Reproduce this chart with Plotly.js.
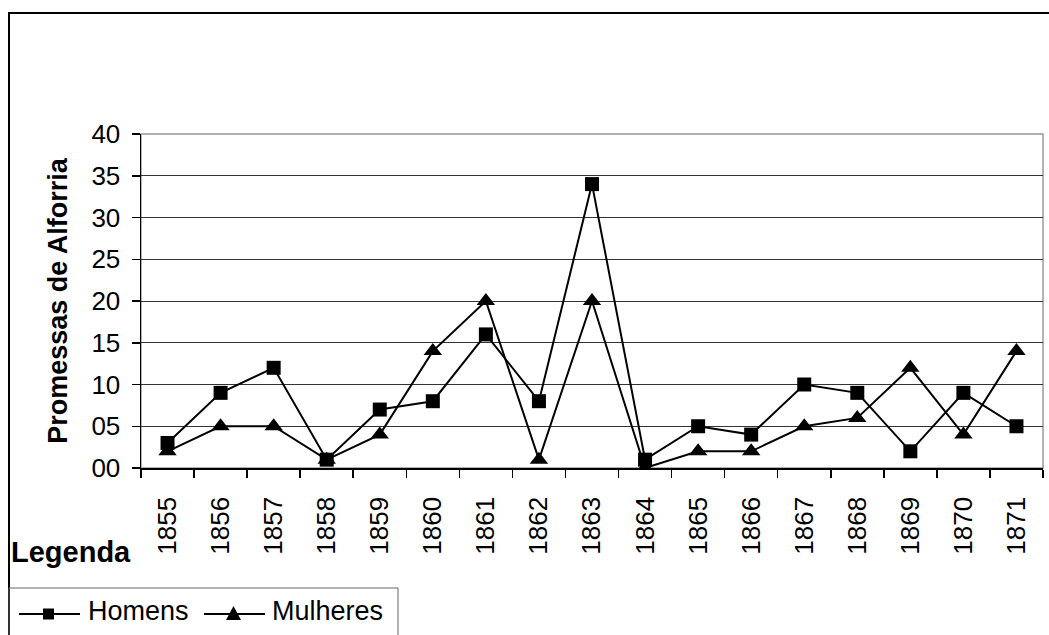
<!DOCTYPE html>
<html>
<head>
<meta charset="utf-8">
<script src="https://cdn.plot.ly/plotly-3.0.1.min.js"></script>
<style>html,body{margin:0;padding:0;background:#fff;}#chart{width:1049px;height:635px;}</style>
</head>
<body>
<div id="chart"></div>
<script>
const years = ['1855','1856','1857','1858','1859','1860','1861','1862','1863','1864','1865','1866','1867','1868','1869','1870','1871'];
const homens = [3, 9, 12, 1, 7, 8, 16, 8, 34, 1, 5, 4, 10, 9, 2, 9, 5];
const mulheres = [2, 5, 5, 1, 4, 14, 20, 1, 20, 0, 2, 2, 5, 6, 12, 4, 14];
const seriesNames = ['Homens', 'Mulheres'];
const yTitle = 'Promessas de Alforria';
const legendLabel = 'Legenda';

const W = 1049, H = 635;
const L = 141, R = 6, T = 134, B = 167;
const pw = W - L - R, ph = H - T - B;
const px = x => (x - L) / pw;
const py = y => (H - B - y) / ph;

const FONT = 'Liberation Sans, Arial, sans-serif';

const traces = [
  {
    x: years, y: homens, name: seriesNames[0], type: 'scatter', mode: 'lines+markers',
    line: {color: '#000', width: 2},
    marker: {symbol: 'square', size: 14, color: '#000'}
  },
  {
    x: years, y: mulheres, name: seriesNames[1], type: 'scatter', mode: 'lines+markers',
    line: {color: '#000', width: 2},
    marker: {symbol: 'triangle-up', size: 16, color: '#000'}
  }
];

// custom legend (drawn in pixel space, converted to paper coords)
const legY = 614;
const legendShapes = [
  {type: 'line', xref: 'paper', yref: 'paper', x0: px(19), x1: px(80), y0: py(legY), y1: py(legY), line: {color: '#000', width: 2}},
  {type: 'rect', xref: 'paper', yref: 'paper', x0: px(43), x1: px(54), y0: py(legY + 5.5), y1: py(legY - 5.5), fillcolor: '#000', line: {color: '#000', width: 0}},
  {type: 'line', xref: 'paper', yref: 'paper', x0: px(204), x1: px(265), y0: py(legY), y1: py(legY), line: {color: '#000', width: 2}},
  {type: 'path', xref: 'paper', yref: 'paper', fillcolor: '#000', line: {color: '#000', width: 0},
   path: 'M ' + px(226) + ' ' + py(legY + 6) + ' L ' + px(241) + ' ' + py(legY + 6) + ' L ' + px(233.5) + ' ' + py(legY - 8) + ' Z'}
];

const layout = {
  width: W, height: H,
  margin: {l: L, r: R, t: T, b: B, pad: 0},
  paper_bgcolor: '#fff', plot_bgcolor: '#fff',
  font: {family: FONT, color: '#000', size: 26},
  showlegend: false,
  xaxis: {
    type: 'category', tickson: 'boundaries', range: [-0.5, years.length - 0.5],
    showline: true, linecolor: '#000', linewidth: 1.5,
    ticks: 'outside', ticklen: 8, tickcolor: '#000', tickwidth: 1.5,
    tickangle: -90, tickfont: {family: FONT, size: 26, color: '#000'},
    ticklabelstandoff: 17,
    showgrid: false, zeroline: false, fixedrange: true
  },
  yaxis: {
    range: [0, 40], dtick: 5, tick0: 0, tickformat: '02d',
    showline: true, linecolor: '#000', linewidth: 1.5,
    ticks: 'outside', ticklen: 8, tickcolor: '#000', tickwidth: 1.5,
    tickfont: {family: FONT, size: 26, color: '#000'},
    ticklabelstandoff: 6,
    showgrid: true, gridcolor: '#333', gridwidth: 1,
    zeroline: false, fixedrange: true,
    title: {text: yTitle, font: {family: FONT, size: 27, color: '#000', weight: 'bold'}, standoff: 16}
  },
  shapes: [
    {type: 'rect', xref: 'paper', yref: 'paper', x0: 0, x1: 1, y0: 0, y1: 1,
     line: {color: '#999', width: 1.5}, layer: 'below'},
    {type: 'rect', xref: 'paper', yref: 'paper', x0: px(9), x1: px(W + 10), y0: py(H + 10), y1: py(13),
     line: {color: '#000', width: 2}, layer: 'above'},
    {type: 'rect', xref: 'paper', yref: 'paper', x0: px(9), x1: px(398), y0: py(H + 10), y1: py(588),
     line: {color: '#666', width: 1}, layer: 'above'}
  ].concat(legendShapes),
  annotations: [
    {text: '<b>' + legendLabel + '</b>', xref: 'paper', yref: 'paper', x: px(9), y: py(552),
     xanchor: 'left', yanchor: 'middle', showarrow: false,
     font: {family: FONT, size: 29, color: '#000'}},
    {text: seriesNames[0], xref: 'paper', yref: 'paper', x: px(86), y: py(611),
     xanchor: 'left', yanchor: 'middle', showarrow: false,
     font: {family: FONT, size: 27, color: '#000'}},
    {text: seriesNames[1], xref: 'paper', yref: 'paper', x: px(270), y: py(611),
     xanchor: 'left', yanchor: 'middle', showarrow: false,
     font: {family: FONT, size: 27, color: '#000'}}
  ]
};

Plotly.newPlot('chart', traces, layout, {displayModeBar: false, staticPlot: true});
</script>
</body>
</html>
